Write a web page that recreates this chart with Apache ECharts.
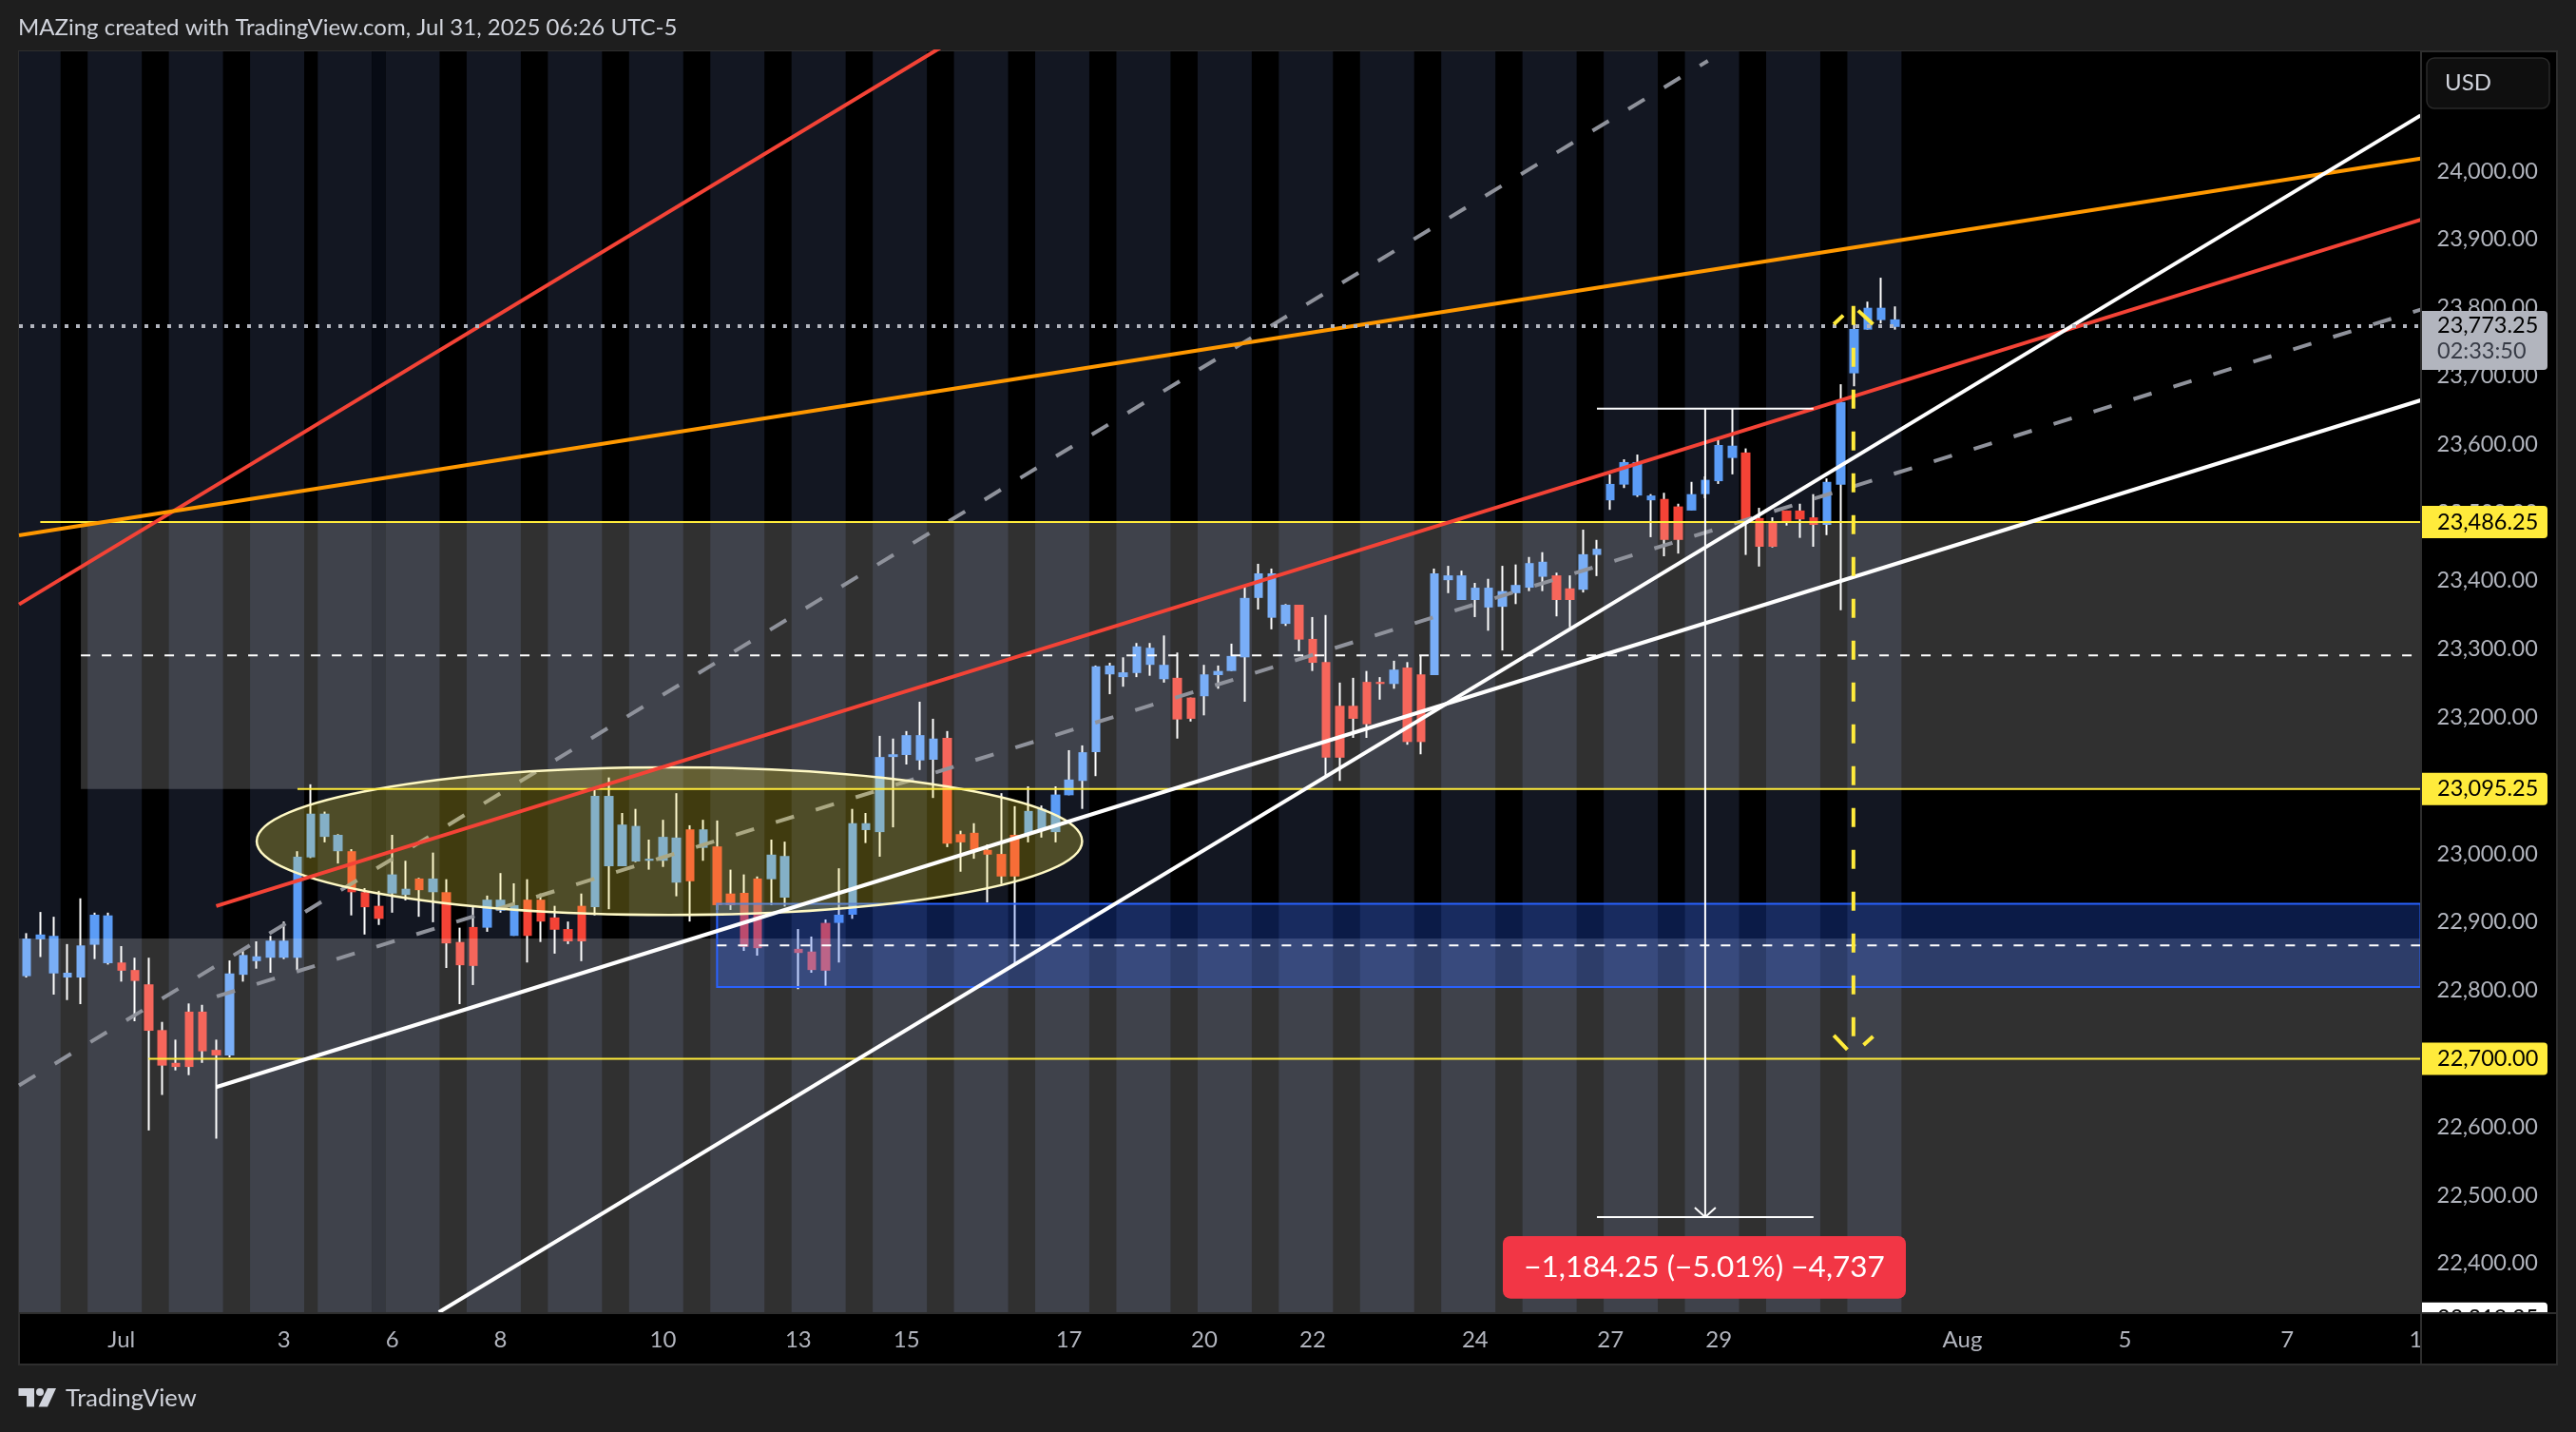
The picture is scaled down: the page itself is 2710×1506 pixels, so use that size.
<!DOCTYPE html>
<html>
<head>
<meta charset="utf-8">
<title>MAZing</title>
<style>
html, body { margin: 0; padding: 0; background: #1e1e1e; }
#main { width: 2710px; height: 1506px; }
</style>
<script src="https://cdn.jsdelivr.net/npm/echarts@6/dist/echarts.min.js"></script>
</head>
<body>
<div id="main"></div>
<script>
// bars, one row of ten per line
var opens = [
    22821,22875,22825,22819,22819,22867,22840,22841,22830,22809,
    22742,22694,22769,22769,22713,22705,22823,22843,22848,22848,
    22848,22995,23025,23004,23004,22944,22924,22942,22940,22964,
    22944,22944,22871,22893,22892,22917,22880,22933,22933,22907,
    22890,22924,22922,22982,22982,22989,22990,22990,22958,23036,
    23009,23011,22942,22943,22964,22963,22936,22861,22857,22899,
    22899,22911,23035,23032,23142,23145,23137,23138,23170,23029,
    23031,23006,23000,23028,23029,23036,23032,23086,23107,23149,
    23263,23259,23265,23277,23256,23258,23229,23231,23262,23268,
    23288,23375,23346,23337,23365,23315,23281,23217,23217,23252,
    23252,23249,23273,23263,23262,23401,23372,23372,23361,23362,
    23382,23390,23406,23408,23389,23387,23438,23518,23541,23525,
    23518,23520,23509,23503,23527,23546,23580,23588,23492,23486,
    23503,23503,23493,23482,23541,23704,23768,23782,23772
];
var closes = [
    22876,22882,22880,22826,22866,22911,22910,22829,22814,22741,
    22690,22688,22688,22711,22705,22825,22852,22850,22873,22873,
    22996,23059,23059,23028,22944,22922,22905,22970,22949,22947,
    22964,22869,22837,22836,22933,22933,22925,22880,22901,22889,
    22872,22872,23085,23085,23043,23041,22993,23025,23024,22960,
    23036,22925,22925,22864,22862,22999,22997,22855,22830,22829,
    22911,23045,23045,23142,23146,23174,23174,23169,23015,23017,
    23006,22999,22967,22967,23063,23066,23087,23109,23149,23275,
    23276,23266,23304,23302,23277,23197,23198,23263,23268,23290,
    23375,23411,23411,23365,23314,23280,23141,23141,23198,23190,
    23249,23270,23164,23164,23411,23408,23408,23390,23390,23385,
    23394,23426,23428,23372,23372,23439,23447,23542,23574,23574,
    23525,23460,23460,23527,23548,23599,23598,23490,23450,23450,
    23486,23490,23482,23545,23662,23769,23800,23800,23783
];
var lows = [
    22819,22849,22794,22786,22780,22846,22838,22813,22755,22595,
    22647,22683,22676,22694,22583,22702,22813,22832,22826,22846,
    22830,22994,23017,22986,22910,22882,22896,22914,22932,22908,
    22900,22833,22780,22808,22886,22914,22880,22841,22871,22854,
    22868,22843,22910,22919,22982,22988,22977,22981,22938,22901,
    22990,22918,22918,22858,22851,22925,22923,22802,22826,22807,
    22841,22905,23016,22996,23039,23131,23123,23082,23010,22974,
    22993,22929,22956,22839,23017,23024,23017,23086,23066,23114,
    23234,23245,23259,23261,23251,23169,23194,23203,23242,23268,
    23223,23358,23329,23334,23297,23268,23113,23107,23170,23170,
    23226,23242,23160,23146,23262,23382,23372,23347,23327,23298,
    23366,23385,23385,23348,23332,23383,23407,23504,23536,23523,
    23464,23436,23440,23503,23521,23542,23556,23438,23421,23449,
    23481,23463,23450,23467,23357,23685,23768,23777,23768
];
var highs = [
    22884,22915,22908,22868,22935,22914,22914,22865,22848,22848,
    22754,22728,22781,22779,22728,22844,22858,22872,22880,22901,
    23004,23102,23062,23029,23007,22950,22946,23028,22990,22965,
    23002,22963,22892,22922,22939,22972,22957,22963,22942,22924,
    22901,22942,23096,23112,23060,23066,23021,23050,23089,23042,
    23050,23049,22977,22970,22967,23021,23018,22890,22879,22904,
    22979,23066,23060,23173,23169,23180,23223,23198,23180,23034,
    23045,23014,23089,23070,23099,23071,23099,23152,23159,23276,
    23280,23288,23309,23309,23320,23295,23229,23277,23276,23308,
    23394,23425,23418,23366,23365,23347,23350,23251,23258,23268,
    23259,23283,23281,23291,23418,23422,23415,23397,23403,23422,
    23424,23435,23442,23412,23408,23475,23460,23556,23578,23585,
    23527,23529,23513,23545,23553,23607,23652,23594,23507,23493,
    23503,23513,23527,23550,23688,23777,23809,23844,23802
];

// axes: x is the bar number
var xMin = -0.57, xMax = 176.85;
var yMin = 22328.8, yMax = 24175.6;
var priceTicks = [24000,23900,23800,23700,23600,23500,23400,23300,23200,23100,23000,22900,22800,22700,22600,22500,22400];
var timeTicks = [7,19,27,35,47,57,65,77,87,95,107,117,125,143,155,167,176.5];
var timeLabels = ['Jul','3','6','8','10','13','15','17','20','22','24','27','29','Aug','5','7','1'];

// session shading, first and last bar edge
var sessionBands = [
    [-0.57,2.5],[4.5,8.5],[10.5,14.5],[16.5,20.5],[21.5,25.5],[26.5,30.5],[32.5,36.5],[38.5,42.5],
    [44.5,48.5],[50.5,54.5],[56.5,60.5],[62.5,66.5],[68.5,72.5],[74.5,78.5],[80.5,84.5],[86.5,90.5],
    [92.5,96.5],[98.5,102.5],[104.5,108.5],[110.5,114.5],[116.5,120.5],[122.5,126.5],[128.5,132.5],[134.5,138.5]
];
var dimBands = [[25.5,26.5]];

// drawings, [bar, price]
var greyBoxes = [[4,176.85,23095.25,23486.25],[-0.57,176.85,22328.8,22876]];
var blueBox = [[51,176.85,22805,22927]];
var oval = [[47.48,23018.7,30.49,108]];
var lineRed1 = [[-0.57,23365.5],[68.25,24189.9]];
var lineRed2 = [[14,22923.6],[176.85,23929]];
var lineOrange = [[-0.57,23466.8],[176.85,24018.6]];
var lineWhite1 = [[14,22658.5],[176.85,23664.5]];
var lineWhite2 = [[30.45,22328.9],[176.85,24081.8]];
var lineGrey1 = [[-0.57,22661],[124.2,24161.7]];
var lineGrey2 = [[14.04,22791.3],[176.85,23797.3]];
var level1 = [[1,23486.25],[176.85,23486.25]];
var level2 = [[20,23095.25],[176.85,23095.25]];
var level3 = [[9,22700],[176.85,22700]];
var midLevel1 = [[4,23291],[176.85,23291]];
var midLevel2 = [[51,22866],[176.85,22866]];
var lastPrice = [[-0.57,23773.25],[176.85,23773.25]];
var measureStem = [[124,23652.25],[124,22468]];
var measureTop = [[116,23652.25],[132,23652.25]];
var measureBottom = [[116,22468],[132,22468]];
var measureHead = [[123.23,22482],[124,22468],[124.77,22482]];
var forecastStem = [[134.95,23802.8],[134.95,22704.9]];
var forecastHeads = [
    [[133.5,23775.9],[134.2,23788.9]],
    [[135.3,23795.9],[136.4,23775.9]],
    [[133.5,22734.2],[134.5,22713.3]],
    [[135.7,22720.3],[136.4,22732.8]]
];

var FONT = 'Lato, "Noto Sans", sans-serif';
var BLUE = '#5b9cf6', RED = '#f44336', YELLOW = '#ffeb3b';

var bodyData = [], wickData = [];
for (var i = 0; i < opens.length; i++) {
    wickData.push([i, opens[i], closes[i], lows[i], highs[i]]);
    bodyData.push([i, opens[i], closes[i], Math.min(opens[i], closes[i]), Math.max(opens[i], closes[i])]);
}

function lineSeries(name, pts, color, width, dash, z) {
    return {
        name: name,
        type: 'line',
        data: pts,
        z: z,
        silent: true,
        symbol: 'none',
        animation: false,
        lineStyle: {color: color, width: width, type: dash || 'solid', cap: 'butt'}
    };
}

// full height boxes behind the bars
function bandSeries(name, bands, color, z) {
    return {
        name: name,
        type: 'custom',
        data: bands,
        z: z,
        clip: true,
        silent: true,
        animation: false,
        encode: {x: [0, 1]},
        renderItem: function (params, api) {
            var a = api.coord([api.value(0), yMax]);
            var b = api.coord([api.value(1), yMin]);
            return {type: 'rect', shape: {x: a[0], y: a[1], width: b[0] - a[0], height: b[1] - a[1]}, style: {fill: color}};
        }
    };
}

function boxSeries(name, boxes, fill, stroke, z) {
    return {
        name: name,
        type: 'custom',
        data: boxes,
        z: z,
        clip: true,
        silent: true,
        animation: false,
        encode: {x: [0, 1], y: [2, 3]},
        renderItem: function (params, api) {
            var a = api.coord([api.value(0), api.value(3)]);
            var b = api.coord([api.value(1), api.value(2)]);
            return {
                type: 'rect',
                shape: {x: a[0], y: a[1], width: b[0] - a[0], height: b[1] - a[1]},
                style: {fill: fill, stroke: stroke || null, lineWidth: stroke ? 2 : 0}
            };
        }
    };
}

var series = [
    bandSeries('sessions', sessionBands, '#131722', 1),
    bandSeries('sessions dim', dimBands, '#070b14', 1),
    {
        name: 'wicks',
        type: 'candlestick',
        data: wickData,
        z: 2,
        silent: true,
        animation: false,
        barWidth: 1,
        itemStyle: {color: '#fff', color0: '#fff', borderColor: '#fff', borderColor0: '#fff', borderWidth: 2}
    },
    {
        name: 'bodies',
        type: 'candlestick',
        data: bodyData,
        z: 3,
        silent: true,
        animation: false,
        barWidth: 10,
        itemStyle: {color: BLUE, color0: RED, borderColor: BLUE, borderColor0: RED, borderWidth: 0}
    },
    boxSeries('grey boxes', greyBoxes, 'rgba(255,255,255,0.19)', null, 4),
    boxSeries('blue box', blueBox, 'rgba(41,98,255,0.28)', '#2962ff', 4),
    lineSeries('grey 1', lineGrey1, '#8f929b', 4, [20, 24], 5),
    lineSeries('grey 2', lineGrey2, '#8f929b', 4, [20, 24], 5),
    {
        name: 'oval',
        type: 'custom',
        data: oval,
        z: 6,
        clip: true,
        silent: true,
        animation: false,
        encode: {x: 0, y: 1},
        renderItem: function (params, api) {
            var c = api.coord([api.value(0), api.value(1)]);
            var s = api.size([api.value(2), api.value(3)]);
            return {
                type: 'ellipse',
                shape: {cx: c[0], cy: c[1], rx: s[0], ry: s[1]},
                style: {fill: 'rgba(255,235,59,0.25)', stroke: '#fff9c4', lineWidth: 2.5}
            };
        }
    },
    lineSeries('mid level 1', midLevel1, '#fff', 2, [10, 12], 7),
    lineSeries('mid level 2', midLevel2, '#fff', 2, [10, 12], 7),
    lineSeries('level 1', level1, YELLOW, 2, null, 7),
    lineSeries('level 2', level2, YELLOW, 2, null, 7),
    lineSeries('level 3', level3, YELLOW, 2, null, 7),
    lineSeries('red 1', lineRed1, RED, 4, null, 8),
    lineSeries('red 2', lineRed2, RED, 4, null, 8),
    lineSeries('orange', lineOrange, '#ff9800', 4, null, 8),
    lineSeries('white 1', lineWhite1, '#fff', 4, null, 8),
    lineSeries('white 2', lineWhite2, '#fff', 4, null, 8),
    lineSeries('last price', lastPrice, '#b2b5be', 4, [4, 8], 8),
    lineSeries('measure stem', measureStem, '#fff', 2, null, 9),
    lineSeries('measure top', measureTop, '#fff', 2, null, 9),
    lineSeries('measure bottom', measureBottom, '#fff', 2, null, 9),
    lineSeries('measure head', measureHead, '#fff', 2, null, 9),
    lineSeries('forecast', forecastStem, YELLOW, 4, [20, 24], 10)
];
forecastHeads.forEach(function (pts, n) {
    series.push(lineSeries('forecast head ' + n, pts, YELLOW, 4, null, 10));
});

var chart = echarts.init(document.getElementById('main'));
chart.setOption({
    backgroundColor: '#1e1e1e',
    animation: false,
    textStyle: {fontFamily: FONT},
    grid: {left: 20, right: 163.5, top: 54, bottom: 126, show: true, backgroundColor: '#000', borderWidth: 0},
    xAxis: {
        type: 'value',
        min: xMin,
        max: xMax,
        splitLine: {show: false},
        axisLine: {show: false},
        axisTick: {show: false},
        axisLabel: {
            customValues: timeTicks,
            color: '#b2b5be',
            fontFamily: FONT,
            fontSize: 24,
            margin: 17,
            formatter: function (v) { return timeLabels[timeTicks.indexOf(v)]; }
        }
    },
    yAxis: {
        type: 'value',
        position: 'right',
        min: yMin,
        max: yMax,
        splitLine: {show: false},
        axisLine: {show: false},
        axisTick: {show: false},
        axisLabel: {
            customValues: priceTicks,
            color: '#b2b5be',
            fontFamily: FONT,
            fontSize: 23.5,
            margin: 17,
            formatter: function (v) { return fmtPrice(v); }
        }
    },
    series: series
});

function fmtPrice(v) {
    return v.toLocaleString('en-US', {minimumFractionDigits: 2, maximumFractionDigits: 2});
}

// price scale tags follow the axis
function tag(price, bg, fg) {
    var y = chart.convertToPixel({yAxisIndex: 0}, price);
    return [
        {type: 'rect', z: 30, shape: {x: 2548, y: y - 17, width: 132, height: 34, r: [0, 4, 4, 0]}, style: {fill: bg}},
        {type: 'text', z: 31, x: 2564, y: y, style: {text: fmtPrice(price), fill: fg, font: '23.5px ' + FONT, textVerticalAlign: 'middle'}}
    ];
}

var lastY = chart.convertToPixel({yAxisIndex: 0}, 23773.25);
var outerFrame = [
    {type: 'rect', z: -1, shape: {x: 20, y: 54, width: 2670, height: 1381}, style: {fill: '#000', stroke: '#2e2e2e', lineWidth: 2}},
    {type: 'line', z: 29, shape: {x1: 2547, y1: 54, x2: 2547, y2: 1435}, style: {stroke: '#2e2e2e', lineWidth: 2}},
    {type: 'line', z: 29, shape: {x1: 20, y1: 1381, x2: 2690, y2: 1381}, style: {stroke: '#2e2e2e', lineWidth: 2}}
];
var logo = [
    {type: 'polygon', z: 30, shape: {points: [[19.5, 1460], [36, 1460], [36, 1479.5], [28, 1479.5], [28, 1468], [19.5, 1468]]}, style: {fill: '#d1d4dc'}},
    {type: 'circle', z: 30, shape: {cx: 42, cy: 1464, r: 4}, style: {fill: '#d1d4dc'}},
    {type: 'polygon', z: 30, shape: {points: [[50, 1460], [59, 1460], [50, 1479.5], [40.5, 1479.5]]}, style: {fill: '#d1d4dc'}},
    {type: 'text', z: 30, x: 69, y: 1471, style: {text: 'TradingView', fill: '#d1d4dc', font: '25.5px ' + FONT, textVerticalAlign: 'middle'}}
];
var elements = outerFrame.concat(logo, [
    {type: 'text', z: 30, x: 19, y: 29, style: {text: 'MAZing created with TradingView.com, Jul 31, 2025 06:26 UTC-5', fill: '#d1d4dc', font: '24px ' + FONT, textVerticalAlign: 'middle'}},
    {type: 'rect', z: 30, shape: {x: 2553, y: 61, width: 129, height: 53, r: 8}, style: {fill: '#0f0f0f', stroke: '#2a2a2a', lineWidth: 1.5}},
    {type: 'text', z: 31, x: 2572, y: 87, style: {text: 'USD', fill: '#d1d4dc', font: '24px ' + FONT, textVerticalAlign: 'middle'}},
    {type: 'rect', z: 30, shape: {x: 2548, y: lastY - 16, width: 132, height: 62, r: [0, 4, 4, 0]}, style: {fill: '#b2b5be'}},
    {type: 'text', z: 31, x: 2564, y: lastY, style: {text: fmtPrice(23773.25), fill: '#000', font: '23.5px ' + FONT, textVerticalAlign: 'middle'}},
    {type: 'text', z: 31, x: 2564, y: lastY + 27, style: {text: '02:33:50', fill: '#363a45', font: '23.5px ' + FONT, textVerticalAlign: 'middle'}},
    {type: 'rect', z: 30, shape: {x: 1581, y: 1300, width: 424, height: 65.7, r: 8}, style: {fill: '#f23645'}},
    {type: 'text', z: 31, x: 1793, y: 1333, style: {text: '\u22121,184.25 (\u22125.01%) \u22124,737', fill: '#fff', font: '31.5px ' + FONT, textAlign: 'center', textVerticalAlign: 'middle'}}
]);
elements = elements.concat(tag(23486.25, YELLOW, '#000'), tag(23095.25, YELLOW, '#000'), tag(22700, YELLOW, '#000'));
// white tag sits half under the time scale
elements = elements.concat(tag(22319.25, '#fff', '#000'));
elements.push({type: 'rect', z: 32, shape: {x: 2548, y: 1380, width: 141, height: 54}, style: {fill: '#000'}});
elements.push({type: 'line', z: 33, shape: {x1: 2547, y1: 1381, x2: 2690, y2: 1381}, style: {stroke: '#2e2e2e', lineWidth: 2}});
chart.setOption({graphic: {elements: elements}});
</script>
</body>
</html>
